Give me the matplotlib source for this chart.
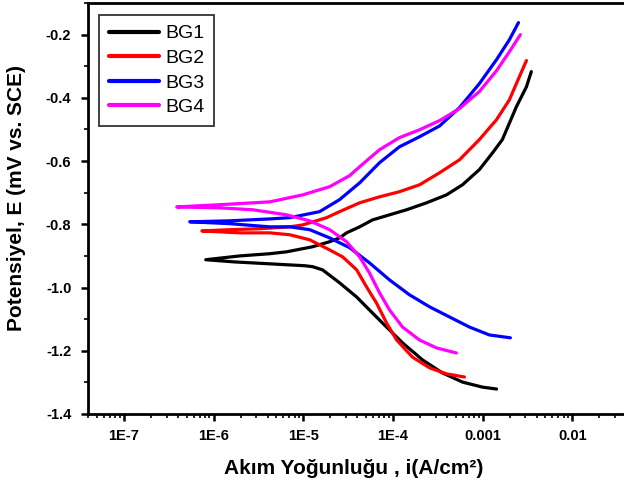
import numpy as np
import matplotlib
matplotlib.use("Agg")
import matplotlib.pyplot as plt
from matplotlib.ticker import FixedLocator, LogLocator, MultipleLocator, NullFormatter

plt.rcParams['font.family'] = ['Liberation Sans', 'DejaVu Sans']
plt.rcParams['axes.unicode_minus'] = False

# Tafel curves, each read as cathodic branch (tip -> end) and anodic branch (tip -> end)
bg1_cat_i = [8.18e-7, 1.72e-6, 4.23e-6, 1.04e-5, 1.27e-5, 1.64e-5, 2.54e-5, 3.94e-5,
             5.48e-5, 8.49e-5, 1.28e-4, 2.14e-4, 3.56e-4, 5.96e-4, 9.95e-4, 1.43e-3]
bg1_cat_e = [-0.912, -0.919, -0.925, -0.931, -0.934, -0.944, -0.985, -1.030,
             -1.071, -1.125, -1.175, -1.229, -1.270, -1.299, -1.315, -1.321]
bg1_an_i = [8.18e-7, 1.96e-6, 4.23e-6, 6.53e-6, 1.27e-5, 1.97e-5, 2.54e-5, 3.04e-5,
            4.25e-5, 5.93e-5, 9.17e-5, 1.42e-4, 2.37e-4, 3.95e-4, 5.96e-4, 9.20e-4,
            1.29e-3, 1.66e-3, 2.38e-3, 3.08e-3, 3.49e-3]
bg1_an_e = [-0.912, -0.900, -0.893, -0.887, -0.871, -0.855, -0.843, -0.827,
            -0.808, -0.786, -0.770, -0.754, -0.732, -0.707, -0.675, -0.627,
            -0.574, -0.532, -0.428, -0.365, -0.317]

bg2_cat_i = [7.40e-7, 1.96e-6, 4.23e-6, 7.06e-6, 1.18e-5, 1.97e-5, 2.75e-5, 3.94e-5,
             5.08e-5, 6.56e-5, 8.49e-5, 1.10e-4, 1.65e-4, 2.56e-4, 3.95e-4, 6.27e-4]
bg2_cat_e = [-0.821, -0.827, -0.827, -0.833, -0.849, -0.881, -0.903, -0.944,
             -0.998, -1.049, -1.112, -1.166, -1.220, -1.254, -1.273, -1.283]
bg2_an_i = [7.40e-7, 1.51e-6, 3.27e-6, 7.06e-6, 9.84e-6, 1.82e-5, 2.54e-5, 4.25e-5,
            7.10e-5, 1.18e-4, 1.98e-4, 3.31e-4, 5.52e-4, 9.20e-4, 1.43e-3, 1.99e-3,
            2.57e-3, 3.08e-3]
bg2_an_e = [-0.821, -0.817, -0.814, -0.808, -0.802, -0.779, -0.760, -0.732,
            -0.713, -0.697, -0.675, -0.637, -0.596, -0.532, -0.469, -0.406,
            -0.333, -0.282]

bg3_cat_i = [5.43e-7, 1.51e-6, 4.23e-6, 7.06e-6, 1.18e-5, 1.97e-5, 3.29e-5, 5.48e-5,
             9.17e-5, 1.53e-4, 2.56e-4, 4.27e-4, 7.13e-4, 1.19e-3, 2.04e-3]
bg3_cat_e = [-0.792, -0.798, -0.808, -0.808, -0.817, -0.843, -0.874, -0.922,
             -0.976, -1.023, -1.061, -1.093, -1.125, -1.150, -1.159]
bg3_an_i = [5.43e-7, 1.51e-6, 4.23e-6, 7.06e-6, 1.52e-5, 2.54e-5, 4.25e-5, 7.10e-5,
            1.18e-4, 1.98e-4, 3.31e-4, 5.52e-4, 9.20e-4, 1.43e-3, 1.99e-3, 2.51e-3]
bg3_an_e = [-0.792, -0.789, -0.783, -0.779, -0.760, -0.722, -0.669, -0.605,
            -0.555, -0.523, -0.489, -0.431, -0.355, -0.279, -0.216, -0.162]

bg4_cat_i = [3.89e-7, 1.17e-6, 2.74e-6, 6.53e-6, 1.18e-5, 1.97e-5, 3.04e-5, 4.25e-5,
             5.48e-5, 7.10e-5, 9.17e-5, 1.28e-4, 1.98e-4, 3.06e-4, 5.10e-4]
bg4_cat_e = [-0.745, -0.748, -0.754, -0.770, -0.789, -0.817, -0.855, -0.903,
             -0.954, -1.017, -1.071, -1.125, -1.166, -1.191, -1.207]
bg4_an_i = [3.89e-7, 1.17e-6, 4.23e-6, 9.84e-6, 1.97e-5, 3.29e-5, 4.25e-5, 7.10e-5,
            1.18e-4, 1.98e-4, 3.31e-4, 5.52e-4, 9.20e-4, 1.43e-3, 1.99e-3, 2.64e-3]
bg4_an_e = [-0.745, -0.738, -0.729, -0.707, -0.681, -0.646, -0.618, -0.564,
            -0.526, -0.501, -0.472, -0.434, -0.380, -0.314, -0.254, -0.200]

labels = ['BG1', 'BG2', 'BG3', 'BG4']
colors = ['black', 'red', 'blue', 'magenta']
curves = [(bg1_cat_i, bg1_cat_e, bg1_an_i, bg1_an_e),
          (bg2_cat_i, bg2_cat_e, bg2_an_i, bg2_an_e),
          (bg3_cat_i, bg3_cat_e, bg3_an_i, bg3_an_e),
          (bg4_cat_i, bg4_cat_e, bg4_an_i, bg4_an_e)]

xtick_vals = [1e-7, 1e-6, 1e-5, 1e-4, 1e-3, 1e-2]
xtick_labels = ['1E-7', '1E-6', '1E-5', '1E-4', '0.001', '0.01']

fig = plt.figure(figsize=(6.24, 4.88), dpi=100)
# axes runs past the right edge of the picture, like the cropped original
ax = fig.add_axes([88 / 624, 1 - 414 / 488, (662 - 88) / 624, (414 - 3) / 488])

for (ci, ce, ai, ae), lab, col in zip(curves, labels, colors):
    xs = list(ci[::-1]) + list(ai[1:])
    ys = list(ce[::-1]) + list(ae[1:])
    ax.plot(xs, ys, color=col, lw=2.3, label=lab,
            solid_joinstyle='round', solid_capstyle='round')

ax.set_xscale('log')
ax.set_xlim(10 ** -7.4, 10 ** -1)
ax.set_ylim(-1.4, -0.1)

ax.xaxis.set_major_locator(FixedLocator(xtick_vals))
ax.set_xticklabels(xtick_labels)
ax.xaxis.set_minor_locator(LogLocator(base=10, subs=np.arange(2, 10)))
ax.xaxis.set_minor_formatter(NullFormatter())
ax.yaxis.set_major_locator(MultipleLocator(0.2))
ax.yaxis.set_minor_locator(MultipleLocator(0.1))
ax.yaxis.set_major_formatter(plt.FuncFormatter(lambda v, p: '%.1f' % v))

ax.tick_params(which='major', direction='out', length=5, width=1.8, labelsize=10.5)
ax.tick_params(axis='y', which='major', pad=7)
ax.tick_params(axis='x', which='major', pad=6)
ax.tick_params(which='minor', direction='out', length=3, width=1.2)
ax.tick_params(top=False, right=False)
for t in ax.get_xticklabels() + ax.get_yticklabels():
    t.set_fontweight('bold')
for s in ax.spines.values():
    s.set_linewidth(2)

fig.text(354 / 624, 1 - 468 / 488, 'Akım Yoğunluğu , i(A/cm²)', ha='center', va='center',
         fontsize=15, fontweight='bold')
fig.text(17 / 624, 1 - 198 / 488, 'Potensiyel, E (mV vs. SCE)', ha='center', va='center',
         rotation=90, fontsize=15, fontweight='bold')

leg = ax.legend(loc='upper left', bbox_to_anchor=(99 / 624, 1 - 15 / 488),
                bbox_transform=fig.transFigure, fontsize=14, frameon=True,
                fancybox=False, handlelength=2.6, handletextpad=0.3,
                labelspacing=0.36, borderpad=0.5, borderaxespad=0)
leg.get_frame().set_edgecolor('black')
leg.get_frame().set_linewidth(1.3)
for line in leg.get_lines():
    line.set_linewidth(3)

fig.savefig('out.png', dpi=100)
